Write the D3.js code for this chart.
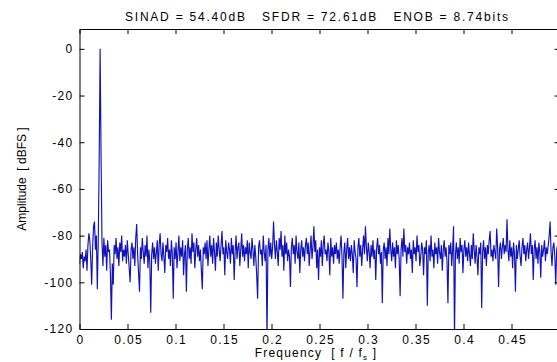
<!DOCTYPE html>
<html>
<head>
<meta charset="utf-8">
<script src="https://cdn.jsdelivr.net/npm/d3@7"></script>
<style>
  body { margin: 0; background: #fff; }
  text { font-family: "Liberation Sans", Arial, sans-serif; fill: #000; }
</style>
</head>
<body>
<div id="chart"></div>
<script>
// FFT bin spacing (f / fs) and the tone / stats shown in the title
var binStep = 1 / 1024;
var titleText = "SINAD = 54.40dB   SFDR = 72.61dB   ENOB = 8.74bits";
var xLabel = "Frequency";
var yLabel = "Amplitude  [ dBFS ]";
var xTicks = [0, 0.05, 0.1, 0.15, 0.2, 0.25, 0.3, 0.35, 0.4, 0.45];
var xTickLabels = ["0", "0.05", "0.1", "0.15", "0.2", "0.25", "0.3", "0.35", "0.4", "0.45"];
var yTicks = [0, -20, -40, -60, -80, -100, -120];

// spectrum, dBFS, one value per bin
var spectrum = [
  -92, -88, -90, -87, -94, -89, -91, -86, -95, -84, -79, -82, -90, -101, -85, -76,
  -74, -86, -80, -103, -82, -48, 0, -46, -83, -93, -81, -89, -84, -95, -82, -87,
  -86, -97, -116, -92, -101, -84, -88, -81, -90, -85, -93, -83, -87, -80, -91, -86,
  -89, -84, -92, -82, -88, -94, -100, -86, -83, -90, -85, -93, -81, -75, -88, -96,
  -104, -85, -90, -81, -87, -92, -84, -89, -80, -94, -86, -91, -113, -88, -83, -90,
  -85, -92, -87, -82, -95, -84, -79, -88, -91, -83, -89, -96, -84, -87, -81, -90,
  -86, -93, -82, -88, -107, -85, -90, -83, -94, -87, -80, -91, -85, -89, -82, -97,
  -88, -84, -104, -86, -81, -90, -85, -92, -79, -87, -83, -94, -86, -81, -89, -84,
  -91, -86, -95, -103, -85, -88, -83, -90, -82, -93, -86, -80, -89, -84, -92, -81,
  -87, -95, -83, -89, -80, -86, -91, -84, -78, -88, -85, -97, -82, -87, -90, -83,
  -86, -92, -81, -88, -84, -99, -87, -80, -90, -85, -83, -93, -86, -79, -89, -84,
  -91, -85, -88, -82, -94, -83, -87, -90, -81, -86, -93, -84, -89, -97, -107, -85,
  -82, -88, -86, -93, -80, -87, -91, -84, -124, -86, -81, -89, -83, -90, -85, -74,
  -84, -90, -82, -87, -93, -81, -86, -78, -89, -84, -95, -80, -88, -83, -91, -86,
  -89, -102, -85, -81, -88, -84, -92, -80, -87, -90, -83, -96, -86, -82, -89, -85,
  -91, -84, -81, -88, -83, -93, -86, -80, -90, -85, -76, -87, -82, -94, -86, -99,
  -85, -89, -82, -93, -84, -80, -88, -86, -91, -83, -87, -97, -81, -89, -85, -92,
  -84, -88, -83, -90, -86, -92, -85, -80, -89, -107, -87, -83, -94, -86, -81, -90,
  -85, -91, -84, -88, -96, -82, -87, -90, -102, -85, -81, -89, -84, -93, -86, -80,
  -88, -76, -85, -91, -83, -87, -94, -84, -89, -82, -90, -86, -99, -85, -81, -88,
  -84, -92, -87, -109, -86, -83, -90, -85, -93, -81, -88, -77, -86, -91, -83, -89,
  -85, -94, -82, -88, -84, -90, -106, -86, -81, -89, -77, -87, -84, -92, -85, -88,
  -83, -90, -86, -96, -82, -88, -85, -91, -80, -87, -84, -93, -89, -83, -86, -97,
  -85, -88, -82, -110, -87, -84, -91, -80, -89, -86, -94, -83, -88, -85, -92, -81,
  -87, -90, -84, -95, -86, -82, -89, -85, -91, -109, -84, -88, -83, -93, -86, -76,
  -124, -88, -83, -90, -85, -92, -81, -87, -84, -96, -86, -82, -89, -85, -91, -83,
  -88, -93, -84, -90, -79, -86, -92, -84, -89, -97, -85, -88, -83, -111, -87, -82,
  -90, -85, -93, -84, -88, -82, -78, -89, -86, -91, -84, -87, -90, -77, -85, -102,
  -86, -83, -90, -85, -81, -88, -84, -87, -73, -86, -91, -82, -89, -85, -94, -83,
  -88, -104, -84, -90, -86, -82, -89, -93, -85, -81, -88, -84, -91, -86, -83, -90,
  -85, -79, -88, -84, -99, -86, -82, -90, -85, -92, -83, -87, -98, -84, -89, -86,
  -82, -91, -85, -88, -84, -80, -74, -87, -93, -85, -83, -89, -101, -86, -84, -88
];

var W = 557, H = 362;
var margin = { top: 29, right: -2.5, bottom: 33, left: 79.5 };
var width = W - margin.left - margin.right,
    height = H - margin.top - margin.bottom;

var svg = d3.select("#chart").append("svg")
    .attr("width", W)
    .attr("height", H);

var g = svg.append("g")
    .attr("transform", "translate(" + margin.left + "," + margin.top + ")");

var x = d3.scaleLinear().domain([0, 0.5]).range([0, width]);
var y = d3.scaleLinear().domain([-120, 8.5]).range([height, 0]);

g.append("clipPath").attr("id", "plotclip")
  .append("rect").attr("width", width).attr("height", height);

var line = d3.line()
    .x(function(d, i) { return x(i * binStep); })
    .y(function(d) { return y(d); });

g.append("path")
    .datum(spectrum)
    .attr("clip-path", "url(#plotclip)")
    .attr("fill", "none")
    .attr("stroke", "#1212bb")
    .attr("stroke-width", 1.15)
    .attr("d", line);

// axes, ticks pointing inward on all four sides (box on)
var fontSize = "12px";

g.append("g")
    .attr("transform", "translate(0," + height + ")")
    .call(d3.axisBottom(x).tickValues(xTicks)
        .tickFormat(function(d, i) { return xTickLabels[i]; })
        .tickSizeInner(-5).tickSizeOuter(0).tickPadding(6))
    .call(styleAxis)
    .selectAll(".tick text").attr("dx", "0.6px");

g.append("g")
    .call(d3.axisTop(x).tickValues(xTicks).tickFormat("")
        .tickSizeInner(-5).tickSizeOuter(0))
    .call(styleAxis);

g.append("g")
    .call(d3.axisLeft(y).tickValues(yTicks)
        .tickFormat(function(d) { return String(d); })
        .tickSizeInner(-5).tickSizeOuter(0).tickPadding(6))
    .call(styleAxis);

g.append("g")
    .attr("transform", "translate(" + width + ",0)")
    .call(d3.axisRight(y).tickValues(yTicks).tickFormat("")
        .tickSizeInner(-5).tickSizeOuter(0))
    .call(styleAxis);

function styleAxis(sel) {
  sel.attr("font-family", null).attr("font-size", null);
  sel.select(".domain").attr("stroke", "#000").attr("stroke-width", 1);
  sel.selectAll(".tick line").attr("stroke", "#000");
  sel.selectAll(".tick text")
      .attr("fill", "#000")
      .style("font-size", fontSize)
      .style("letter-spacing", "1.3px");
}

// title
svg.append("text")
    .attr("x", 125)
    .attr("y", 21)
    .attr("textLength", 383)
    .attr("lengthAdjust", "spacing")
    .style("font-size", fontSize)
    .style("white-space", "pre")
    .text(titleText);

// x label with subscript
var xl = svg.append("text")
    .attr("x", 316)
    .attr("y", 357)
    .attr("text-anchor", "middle")
    .style("font-size", fontSize)
    .style("letter-spacing", "1.2px")
    .style("white-space", "pre");
xl.append("tspan").text(xLabel + "  [ f / f");
xl.append("tspan").attr("dy", 3).style("font-size", "8px").text("s");
xl.append("tspan").attr("dy", -3).text(" ]");

// y label
svg.append("text")
    .attr("transform", "translate(26," + (margin.top + height / 2) + ") rotate(-90)")
    .attr("text-anchor", "middle")
    .style("font-size", fontSize)
    .style("white-space", "pre")
    .text(yLabel);
</script>
</body>
</html>
